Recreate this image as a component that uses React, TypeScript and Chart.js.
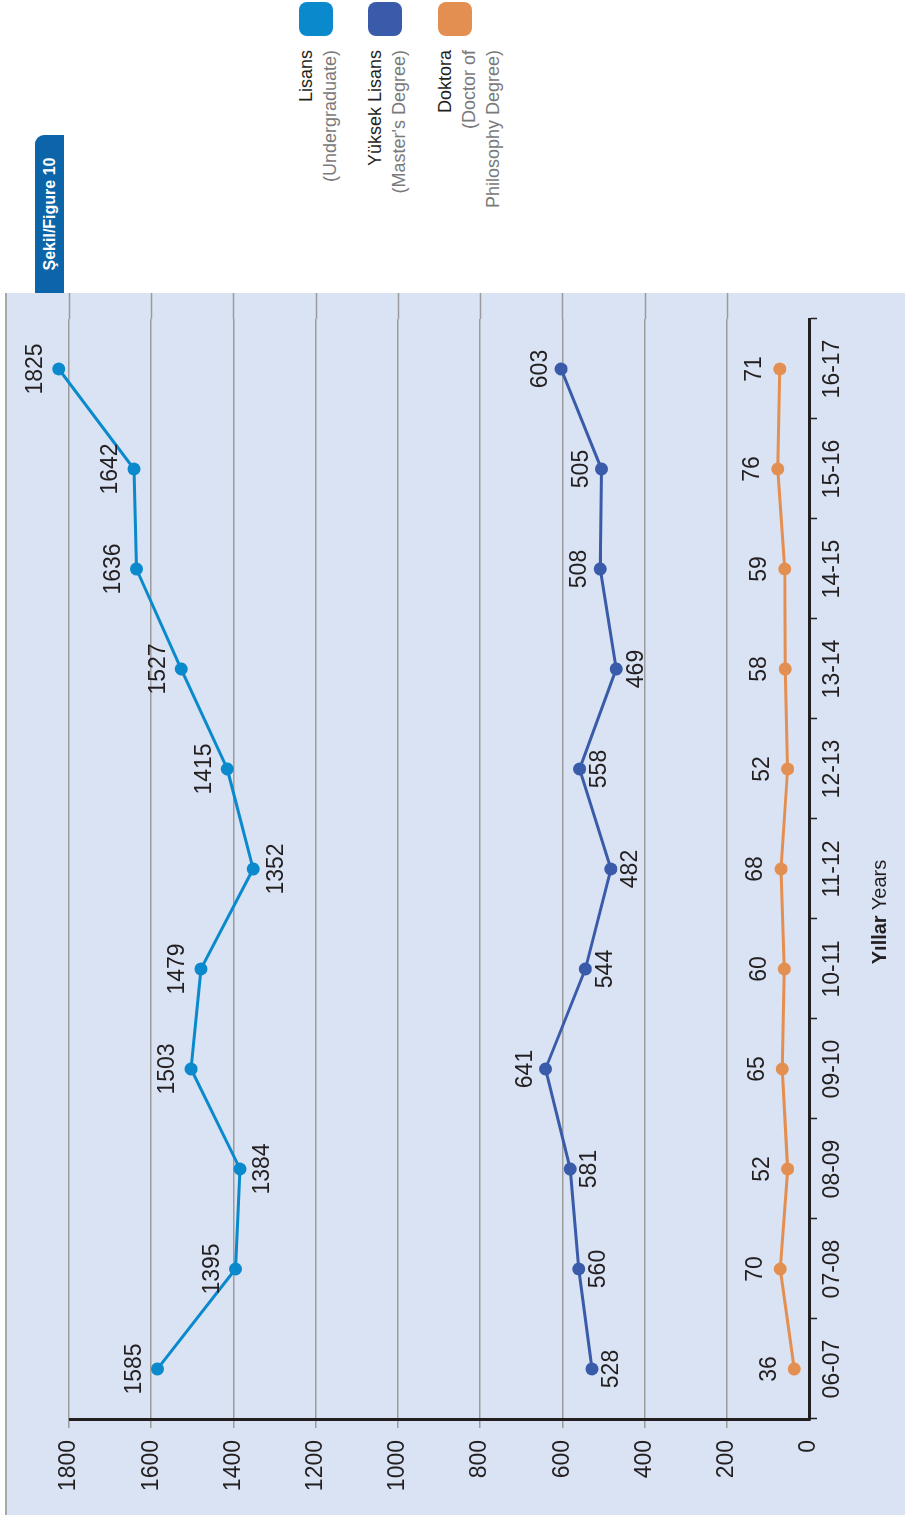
import React, { useEffect, useRef } from 'react';
import { Chart, registerables } from 'chart.js';

Chart.register(...registerables);

const FONT = '"Liberation Sans", Arial, sans-serif';

const years = ['06-07', '07-08', '08-09', '09-10', '10-11', '11-12', '12-13', '13-14', '14-15', '15-16', '16-17'];
const lisans = [1585, 1395, 1384, 1503, 1479, 1352, 1415, 1527, 1636, 1642, 1825];
const yuksekLisans = [528, 560, 581, 641, 544, 482, 558, 469, 508, 505, 603];
const doktora = [36, 70, 52, 65, 60, 68, 52, 58, 59, 76, 71];
const valueTicks = [0, 200, 400, 600, 800, 1000, 1200, 1400, 1600, 1800];

const AXIS_MAX = 1800;

const lisansLabelSide = ['above', 'above', 'below', 'above', 'above', 'below', 'above', 'above', 'above', 'above', 'above'];
const yuksekLabelSide = ['below', 'below', 'below', 'above', 'below', 'below', 'below', 'below', 'above', 'above', 'above'];
const doktoraLabelSide = ['above', 'above', 'above', 'above', 'above', 'above', 'above', 'above', 'above', 'above', 'above'];

const COLORS = { lisans: '#0a89cc', yuksek: '#3a5ba9', doktora: '#e48f52' };
const GRID = '#9b9b9b';
const AXIS = '#231f20';

const legendItems = [
  { color: COLORS.lisans, main: 'Lisans', sub: ['(Undergraduate)'], top: 299 },
  { color: COLORS.yuksek, main: 'Yüksek Lisans', sub: ["(Master's Degree)"], top: 368 },
  { color: COLORS.doktora, main: 'Doktora', sub: ['(Doctor of', 'Philosophy Degree)'], top: 438 },
];

const labelPlugin = {
  id: 'pointValueLabels',
  afterDatasetsDraw(chart: any) {
    const ctx = chart.ctx;
    ctx.save();
    ctx.font = `23px ${FONT}`;
    ctx.fillStyle = AXIS;
    ctx.textAlign = 'center';
    ctx.textBaseline = 'middle';
    chart.data.datasets.forEach((ds: any, i: number) => {
      const meta = chart.getDatasetMeta(i);
      meta.data.forEach((pt: any, j: number) => {
        const off = ds.labelSides[j] === 'below' ? ds.labelOffset : -ds.labelOffset;
        ctx.fillText(String(ds.data[j]), pt.x, pt.y + off);
      });
    });
    ctx.restore();
  },
};

const axesPlugin = {
  id: 'axesExtras',
  beforeDatasetsDraw(chart: any) {
    const ctx = chart.ctx;
    const y = chart.scales.y;
    const area = chart.chartArea;
    ctx.save();
    ctx.strokeStyle = GRID;
    ctx.lineWidth = 1.5;
    y.ticks.forEach((t: any) => {
      if (t.value === 0) return;
      const py = Math.round(y.getPixelForValue(t.value)) + 0.5;
      ctx.beginPath();
      ctx.moveTo(area.right, py);
      ctx.lineTo(area.right + 26, py);
      ctx.stroke();
    });
    ctx.strokeStyle = AXIS;
    ctx.lineWidth = 3;
    ctx.beginPath();
    ctx.moveTo(area.left - 0.5, y.getPixelForValue(0) + 1.5);
    ctx.lineTo(area.left - 0.5, y.getPixelForValue(AXIS_MAX));
    ctx.stroke();
    ctx.restore();
  },
};

function LineChart() {
  const ref = useRef<HTMLCanvasElement | null>(null);
  useEffect(() => {
    if (!ref.current) return;
    const mk = (label: string, data: number[], color: string, sides: string[], offset: number) => ({
      label,
      data,
      borderColor: color,
      backgroundColor: color,
      pointBackgroundColor: color,
      pointBorderColor: color,
      borderWidth: 3,
      pointRadius: 6.5,
      pointBorderWidth: 0,
      tension: 0,
      clip: false,
      labelSides: sides,
      labelOffset: offset,
    });
    const chart = new Chart(ref.current, {
      type: 'line',
      data: {
        labels: years,
        datasets: [
          mk('Lisans', lisans, COLORS.lisans, lisansLabelSide, 23),
          mk('Yüksek Lisans', yuksekLisans, COLORS.yuksek, yuksekLabelSide, 20),
          mk('Doktora', doktora, COLORS.doktora, doktoraLabelSide, 25),
        ] as any,
      },
      options: {
        animation: false,
        responsive: false,
        maintainAspectRatio: false,
        layout: { padding: { top: 809 - (1850 * 740) / 1800, right: 319, left: 0, bottom: 0 } },
        plugins: { legend: { display: false }, tooltip: { enabled: false } },
        scales: {
          x: {
            offset: true,
            grid: {
              offset: true,
              drawOnChartArea: false,
              drawTicks: true,
              tickLength: 8,
              tickColor: AXIS,
              tickWidth: 1.5,
            },
            border: { display: true, color: AXIS, width: 3 },
            ticks: { color: AXIS, font: { family: FONT, size: 23 }, padding: 2, maxRotation: 0 },
            afterFit(scale: any) { scale.height = 96; },
          },
          y: {
            min: 0,
            max: 1850,
            afterBuildTicks(scale: any) {
              scale.ticks = valueTicks.map((v) => ({ value: v }));
            },
            ticks: {
              color: AXIS,
              font: { family: FONT, size: 23 },
              padding: 12,
              callback: (v: any) => String(v),
            },
            grid: {
              color: (c: any) => (c.tick && c.tick.value === 0 ? 'rgba(0,0,0,0)' : GRID),
              lineWidth: 1.5,
              tickLength: 9,
              tickColor: (c: any) => (c.tick && c.tick.value === 0 ? 'rgba(0,0,0,0)' : GRID),
            },
            border: { display: false },
            afterFit(scale: any) { scale.width = 99; },
          },
        },
      },
      plugins: [axesPlugin, labelPlugin],
    } as any);
    return () => chart.destroy();
  }, []);
  return (
    <canvas
      ref={ref}
      width={1518}
      height={905}
      style={{ position: 'absolute', left: 0, top: 0, width: 1518, height: 905 }}
    />
  );
}

export default function App() {
  return (
    <div style={{ position: 'absolute', left: 0, top: 0, width: 905, height: 1518, overflow: 'hidden', background: '#fff', fontFamily: FONT }}>
      <div
        style={{
          position: 'absolute',
          left: 0,
          top: 0,
          width: 1518,
          height: 905,
          transform: 'translateY(1518px) rotate(-90deg)',
          transformOrigin: '0 0',
        }}
      >
        <div
          style={{
            position: 'absolute',
            left: 3,
            top: 5,
            width: 1222,
            height: 900,
            boxSizing: 'border-box',
            background: '#d9e3f3',
            borderTop: '2px solid #a8a8a8',
          }}
        />
        <div
          style={{
            position: 'absolute',
            left: 1225,
            top: 35,
            width: 158,
            height: 29,
            background: '#0b65a8',
            borderTopRightRadius: 9,
            color: '#fff',
            fontWeight: 'bold',
            fontSize: 16,
            lineHeight: '29px',
            textAlign: 'center',
            whiteSpace: 'nowrap',
          }}
        >
          Şekil/Figure 10
        </div>
        {legendItems.map((it) => (
          <React.Fragment key={it.main}>
            <div
              style={{
                position: 'absolute',
                left: 1482,
                top: it.top,
                width: 34,
                height: 34,
                borderRadius: 8,
                background: it.color,
              }}
            />
            <div
              style={{
                position: 'absolute',
                right: 50,
                top: it.top - 5,
                textAlign: 'right',
                fontSize: 18,
                lineHeight: '24px',
                whiteSpace: 'nowrap',
              }}
            >
              <div style={{ color: AXIS }}>{it.main}</div>
              {it.sub.map((s) => (
                <div key={s} style={{ color: '#7a7a7a' }}>{s}</div>
              ))}
            </div>
          </React.Fragment>
        ))}
        <LineChart />
        <div
          style={{
            position: 'absolute',
            left: 606,
            top: 879,
            transform: 'translate(-50%, -50%)',
            whiteSpace: 'nowrap',
            fontSize: 20,
            color: AXIS,
          }}
        >
          <b>Yıllar</b> Years
        </div>
      </div>
    </div>
  );
}
